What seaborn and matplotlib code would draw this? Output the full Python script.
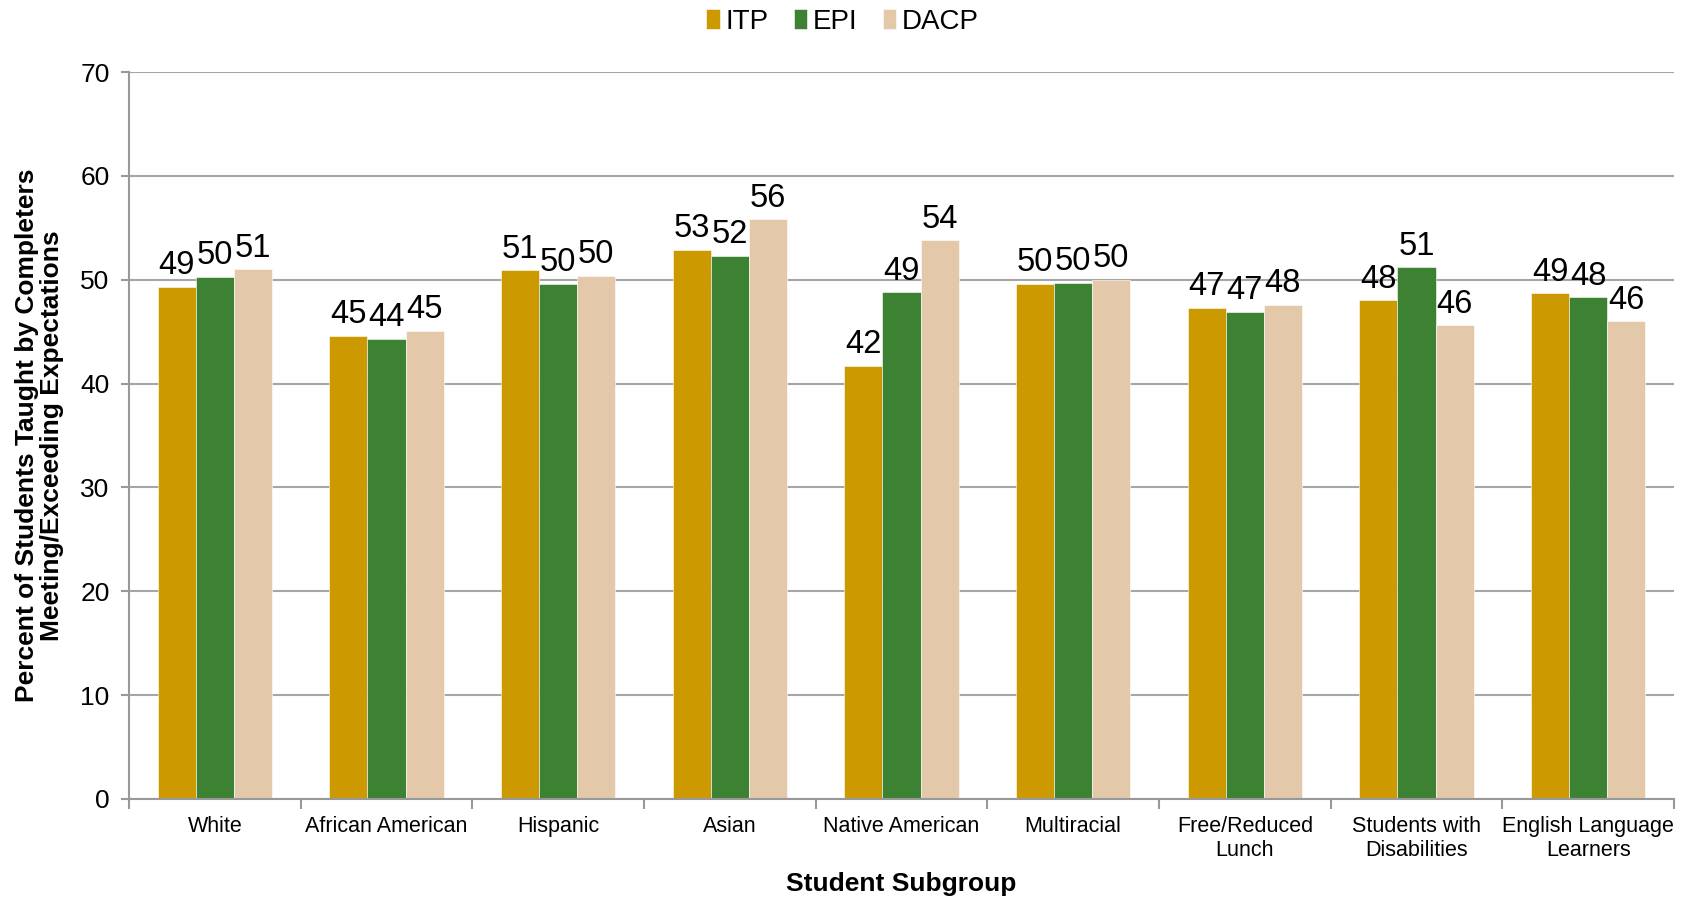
import matplotlib
matplotlib.use("Agg")
import matplotlib.pyplot as plt
import seaborn as sns
import pandas as pd
import numpy as np

subgroups = ["White", "African American", "Hispanic", "Asian", "Native American",
             "Multiracial", "Free/Reduced\nLunch", "Students with\nDisabilities",
             "English Language\nLearners"]
programs = ["ITP", "EPI", "DACP"]
itp = [49.3, 44.6, 50.9, 52.9, 41.7, 49.6, 47.3, 48.0, 48.7]
epi = [50.3, 44.3, 49.6, 52.3, 48.8, 49.7, 46.9, 51.2, 48.3]
dacp = [51.0, 45.1, 50.4, 55.8, 53.8, 50.0, 47.6, 45.6, 46.0]
colors = ["#CC9900", "#3D8133", "#E3C9A9"]

rows = []
for prog, vals in zip(programs, [itp, epi, dacp]):
    for sg, v in zip(subgroups, vals):
        rows.append({"Subgroup": sg, "Program": prog, "Value": v})
df = pd.DataFrame(rows)

sns.set_style("white")
plt.rcParams['font.family'] = ['Liberation Sans', 'DejaVu Sans']
plt.rcParams['text.color'] = 'black'
plt.rcParams['axes.labelcolor'] = 'black'
plt.rcParams['xtick.color'] = 'black'
plt.rcParams['ytick.color'] = 'black'

fig = plt.figure(figsize=(16.85, 8.99), dpi=100)
ax = fig.add_axes([129/1685, 1-799/899, (1674-129)/1685, (799-72)/899])

sns.barplot(data=df, x="Subgroup", y="Value", hue="Program", palette=colors,
            order=subgroups, hue_order=programs, width=0.665, saturation=1,
            edgecolor="white", linewidth=0.4, ax=ax)

for c in ax.containers:
    ax.bar_label(c, fmt="%.0f", fontsize=23.5, padding=4, color="black")

ax.set_ylim(0, 70)
ax.set_yticks(range(0, 71, 10))
ax.set_xlim(-0.5, len(subgroups) - 0.5)
ax.yaxis.grid(True, color="#A6A6A6", linewidth=1.5)
ax.set_axisbelow(True)
for s in ["top", "right"]:
    ax.spines[s].set_visible(False)
for s in ["left", "bottom"]:
    ax.spines[s].set_color("#999999")
    ax.spines[s].set_linewidth(1.5)

ax.tick_params(axis="y", labelsize=19, length=6, width=1.5, color="#999999",
               labelcolor="black", pad=8, left=True)
ax.tick_params(axis="x", which="major", labelsize=15.5, length=0, pad=12, labelcolor="black")
ax.set_xticks(np.arange(-0.5, len(subgroups)), minor=True)
ax.tick_params(axis="x", which="minor", length=7, width=1.5, color="#999999", bottom=True)

ax.set_xlabel("Student Subgroup", fontsize=19, fontweight="bold", labelpad=8)
ax.set_ylabel("Percent of Students Taught by Completers\nMeeting/Exceeding Expectations",
              fontsize=19, fontweight="bold", labelpad=12, linespacing=1.05)

handles, labels = ax.get_legend_handles_labels()
ax.get_legend().remove()
fig.legend(handles, labels, loc="upper center", bbox_to_anchor=(0.5, 1.018), ncol=3,
           frameon=False, fontsize=20, handlelength=0.5, handleheight=0.7,
           handletextpad=0.2, columnspacing=0.9)

fig.savefig("out.png", dpi=100)
